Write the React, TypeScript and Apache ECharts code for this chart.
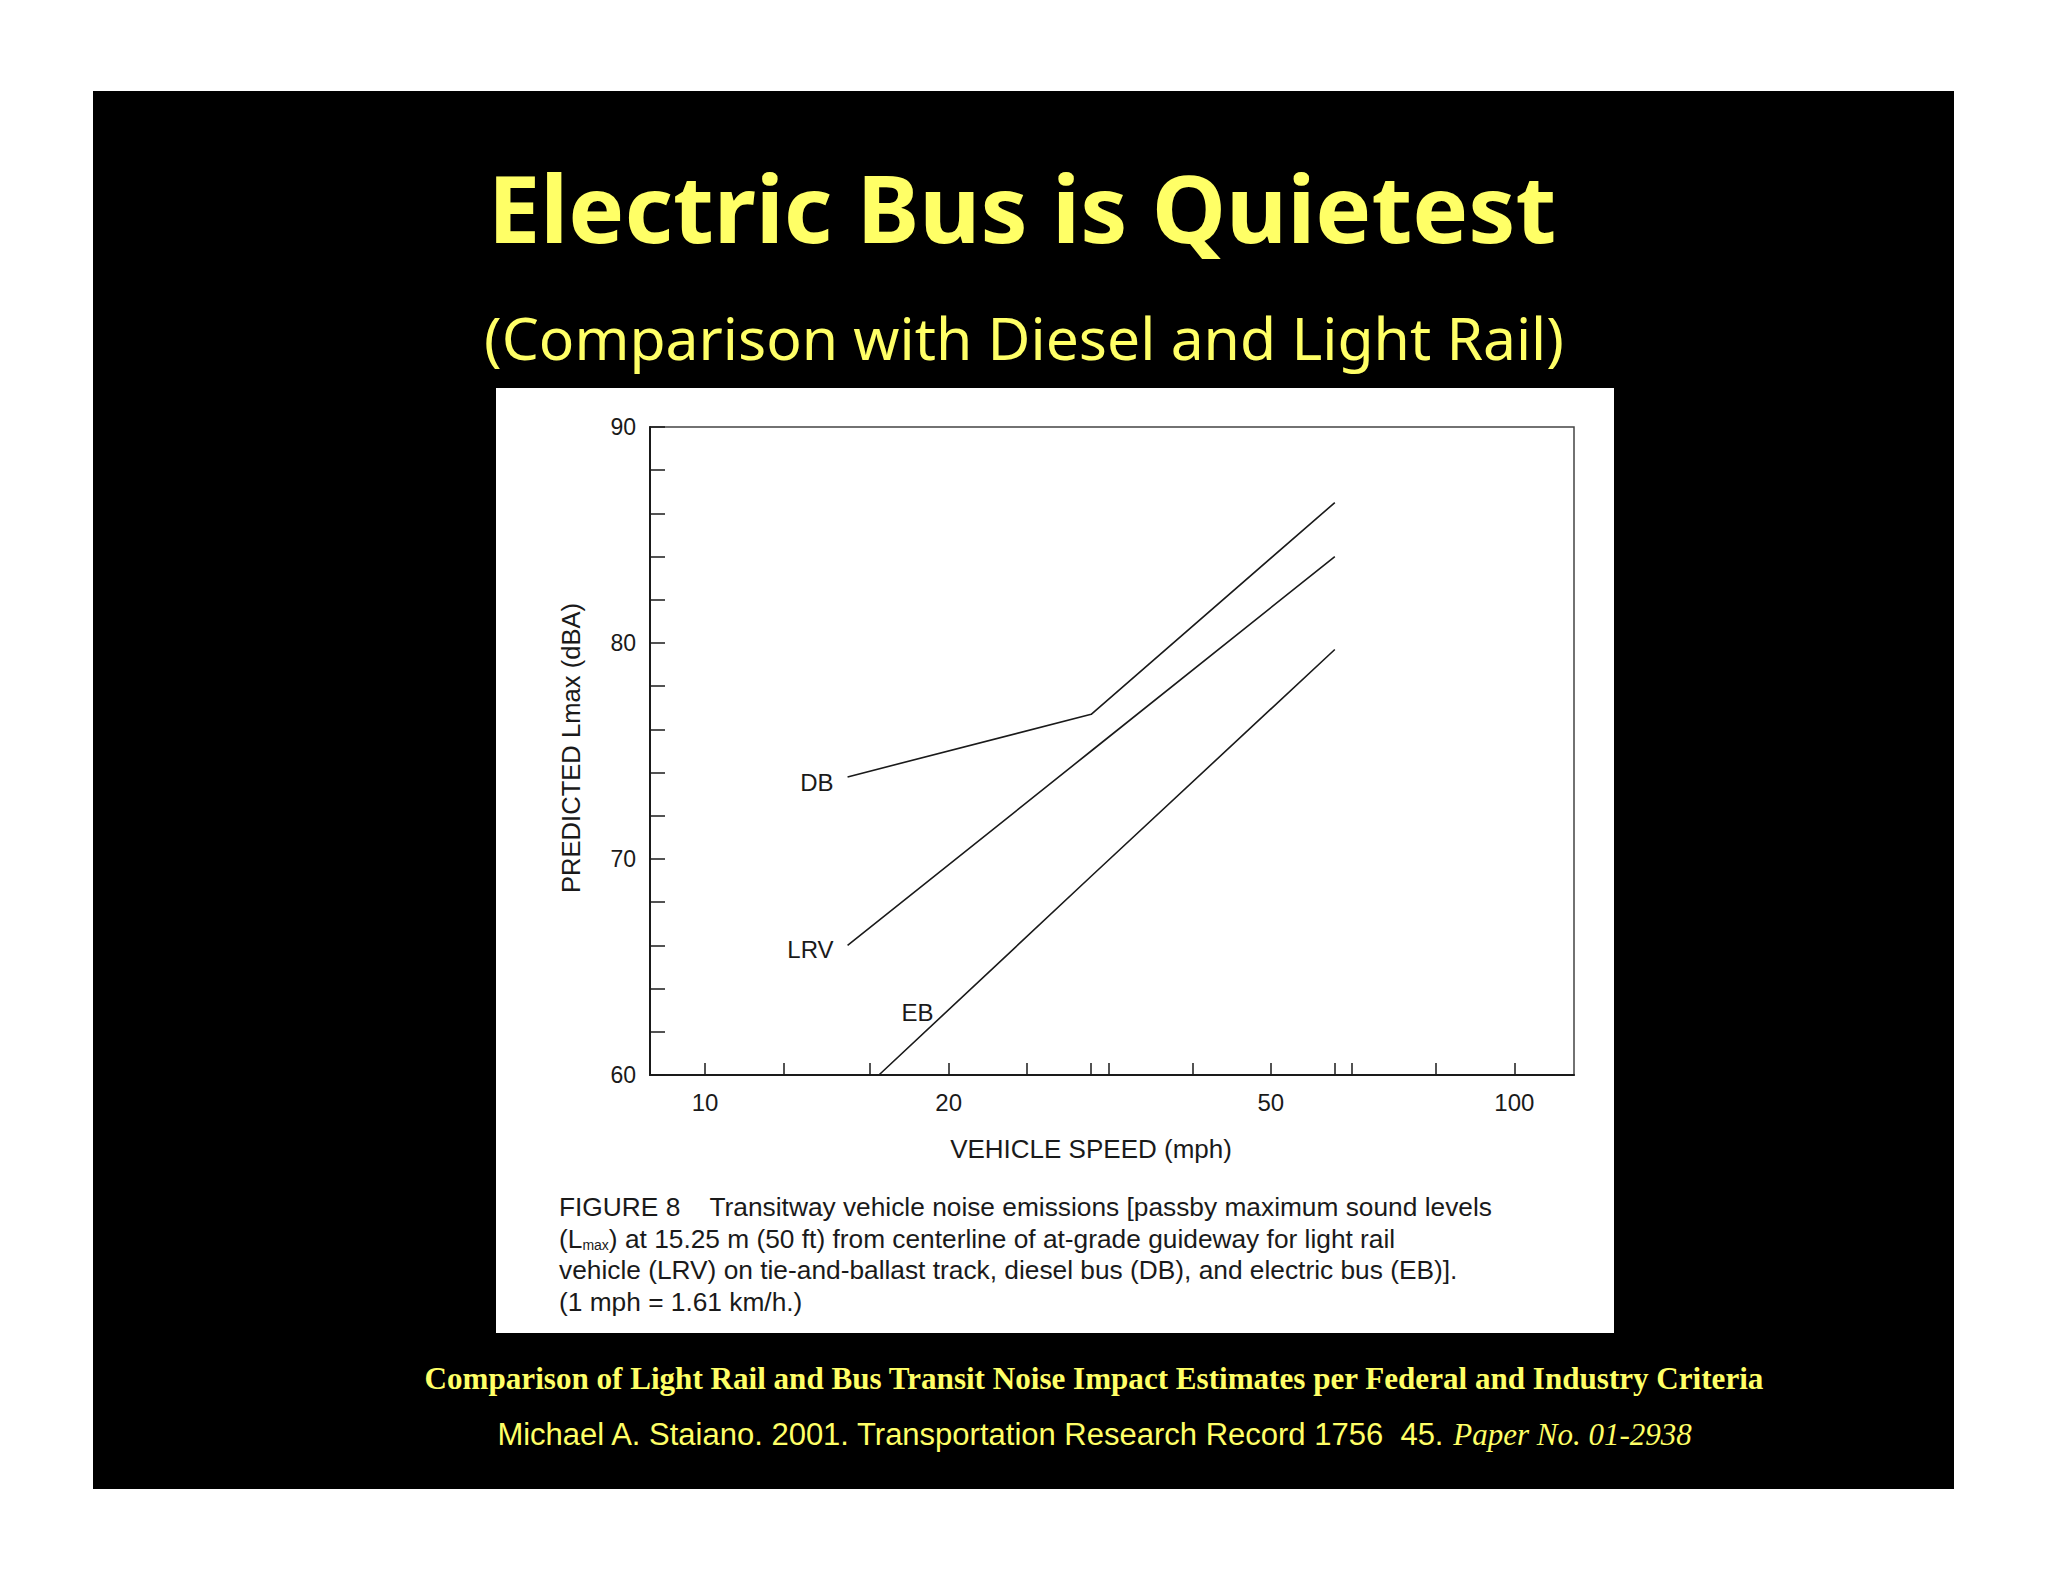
import React, { useEffect, useRef } from "react";
import * as echarts from "echarts";

// ---- data ----
const speedDB = [15, 30, 60];
const levelDB = [73.8, 76.7, 86.5];
const speedLRV = [15, 30, 60];
const levelLRV = [66.0, 75.0, 84.0];
const speedEB = [16.4, 30, 60];
const levelEB = [60.0, 69.2, 79.7];

const xLabelTicks = [10, 20, 50, 100];
const xAllTicks = [10, 12.5, 16, 20, 25, 30, 31.5, 40, 50, 60, 63, 80, 100];
const yLabelTicks = [60, 70, 80, 90];

const ebLabelAnchor = [18.3, 62.9];

const titleText = "Electric Bus is Quietest";
const subtitleText = "(Comparison with Diesel and Light Rail)";
const captionLines = [
  "FIGURE 8\u00a0\u00a0\u00a0\u00a0Transitway vehicle noise emissions [passby maximum sound levels",
  "(L{sub|max}) at 15.25 m (50 ft) from centerline of at-grade guideway for light rail",
  "vehicle (LRV) on tie-and-ballast track, diesel bus (DB), and electric bus (EB)].",
  "(1 mph = 1.61 km/h.)",
];
const footer1 = "Comparison of Light Rail and Bus Transit Noise Impact Estimates per Federal and Industry Criteria";
const footer2a = "Michael A. Staiano. 2001. Transportation Research Record 1756\u00a0\u00a045. ";
const footer2b = "Paper No. 01-2938";

const YELLOW = "#FFFF66";
const INK = "#1a1a1a";
const FIG_FONT = '"Liberation Sans", Arial, sans-serif';

const pairs = (xs: number[], ys: number[]) => xs.map((x, i) => [x, ys[i]]);

export default function App() {
  const ref = useRef<HTMLDivElement>(null);

  useEffect(() => {
    if (!ref.current) return;
    const chart = echarts.init(ref.current, undefined, { renderer: "svg" });

    const lineStyle = { color: INK, width: 1.6 };
    const seriesLabel = (name: string, dy: number) => ({
      show: true,
      position: "left",
      distance: 14,
      offset: [0, dy],
      formatter: name,
      color: INK,
      fontSize: 24,
      fontFamily: FIG_FONT,
    });

    const option: any = {
      animation: false,
      backgroundColor: "#ffffff",
      graphic: [
        {
          type: "rect",
          z: -10,
          shape: { x: 93, y: 91, width: 1861, height: 1398 },
          style: { fill: "#000000" },
        },
        {
          type: "rect",
          z: -9,
          shape: { x: 496, y: 388, width: 1118, height: 945 },
          style: { fill: "#ffffff" },
        },
        {
          type: "text",
          x: 1022,
          y: 207,
          style: {
            text: titleText,
            fill: YELLOW,
            fontFamily: '"Noto Sans", sans-serif',
            fontWeight: "bold",
            fontSize: 94,
            align: "center",
            verticalAlign: "middle",
          },
        },
        {
          type: "text",
          x: 1024,
          y: 337,
          style: {
            text: subtitleText,
            fill: YELLOW,
            fontFamily: '"Noto Sans", sans-serif',
            fontSize: 58.8,
            align: "center",
            verticalAlign: "middle",
          },
        },
        ...captionLines.map((t, i) => ({
          type: "text",
          x: 559,
          y: 1207 + i * 31.5,
          style: {
            text: t,
            fill: INK,
            fontFamily: FIG_FONT,
            fontSize: 26.3,
            align: "left",
            verticalAlign: "middle",
            rich: {
              sub: { fontSize: 14, fontFamily: FIG_FONT, fill: INK, padding: [12, 0, 0, 0] },
            },
          },
        })),
        {
          type: "text",
          x: 1094,
          y: 1378,
          style: {
            text: footer1,
            fill: YELLOW,
            fontFamily: '"Liberation Serif", "Times New Roman", serif',
            fontWeight: "bold",
            fontSize: 31.1,
            align: "center",
            verticalAlign: "middle",
          },
        },
        {
          type: "text",
          x: 1094,
          y: 1434,
          style: {
            text: "{a|" + footer2a + "}{b|" + footer2b + "}",
            fill: YELLOW,
            align: "center",
            verticalAlign: "middle",
            rich: {
              a: { fontFamily: '"Liberation Sans", Arial, sans-serif', fontSize: 31, fill: YELLOW },
              b: {
                fontFamily: '"Liberation Serif", "Times New Roman", serif',
                fontStyle: "italic",
                fontSize: 31,
                fill: YELLOW,
              },
            },
          },
        },
      ],
      grid: {
        left: 650,
        top: 427,
        width: 924,
        height: 648,
        show: true,
        borderColor: "#444",
        borderWidth: 1.5,
        backgroundColor: "transparent",
      },
      xAxis: {
        type: "log",
        logBase: 10,
        min: 8.55,
        max: 118.5,
        name: "VEHICLE SPEED (mph)",
        nameLocation: "middle",
        nameGap: 61,
        nameTextStyle: { color: INK, fontSize: 26, fontFamily: FIG_FONT, padding: [0, 42, 0, 0] },
        axisLine: { show: true, onZero: false, lineStyle: { color: INK, width: 2 } },
        axisTick: { show: true, inside: true, length: 12, customValues: xAllTicks, lineStyle: { color: INK, width: 1.5 } },
        minorTick: { show: false },
        axisLabel: {
          customValues: xLabelTicks,
          color: INK,
          fontSize: 24,
          fontFamily: FIG_FONT,
          margin: 15,
        },
        splitLine: { show: false },
      },
      yAxis: {
        type: "value",
        min: 60,
        max: 90,
        interval: 2,
        name: "PREDICTED Lmax (dBA)",
        nameLocation: "middle",
        nameGap: 66,
        nameTextStyle: { color: INK, fontSize: 25.6, fontFamily: FIG_FONT, padding: [0, 0, 0, 6] },
        axisLine: { show: true, onZero: false, lineStyle: { color: INK, width: 2 } },
        axisTick: { show: true, inside: true, length: 15, lineStyle: { color: INK, width: 1.5 } },
        axisLabel: {
          color: INK,
          fontSize: 23,
          fontFamily: FIG_FONT,
          margin: 14,
          formatter: (v: number) => (yLabelTicks.indexOf(v) >= 0 ? String(v) : ""),
        },
        splitLine: { show: false },
      },
      series: [
        {
          name: "DB",
          type: "line",
          symbol: "circle",
          symbolSize: 0,
          showSymbol: true,
          lineStyle,
          itemStyle: { color: INK },
          data: pairs(speedDB, levelDB).map((p, i) =>
            i === 0 ? { value: p, label: seriesLabel("DB", 6) } : { value: p }
          ),
        },
        {
          name: "LRV",
          type: "line",
          symbol: "circle",
          symbolSize: 0,
          showSymbol: true,
          lineStyle,
          itemStyle: { color: INK },
          data: pairs(speedLRV, levelLRV).map((p, i) =>
            i === 0 ? { value: p, label: seriesLabel("LRV", 4) } : { value: p }
          ),
        },
        {
          name: "EB",
          type: "line",
          symbol: "circle",
          symbolSize: 0,
          showSymbol: true,
          lineStyle,
          itemStyle: { color: INK },
          data: pairs(speedEB, levelEB),
          markPoint: {
            symbol: "circle",
            symbolSize: 1,
            itemStyle: { color: "rgba(0,0,0,0)" },
            label: {
              show: true,
              position: "inside",
              color: INK,
              fontSize: 24,
              fontFamily: FIG_FONT,
              formatter: "EB",
            },
            data: [{ coord: ebLabelAnchor, value: "EB" }],
          },
        },
      ],
    };

    chart.setOption(option);
    return () => chart.dispose();
  }, []);

  return (
    <div
      ref={ref}
      style={{ position: "fixed", left: 0, top: 0, width: 2048, height: 1582 }}
    />
  );
}
